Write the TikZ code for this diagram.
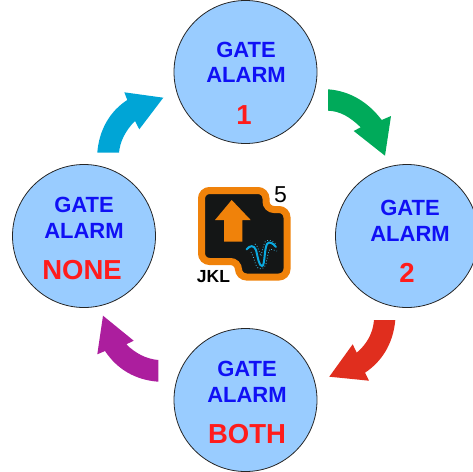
\documentclass[tikz,border=0pt]{standalone}
\usepackage{fontspec}
\setmainfont{Liberation Sans}

\tikzset{
    gatecircle/.style={circle, draw=black!85, line width=0.8pt, fill=gatefill, minimum size=143pt, inner sep=0pt},
    gatetext/.style={text=gateblue, font=\fontsize{22}{22}\selectfont\bfseries},
    statetext/.style={text=gatered, font=\fontsize{27.5}{27.5}\selectfont\bfseries},
}

\begin{document}
\begin{tikzpicture}[x=1pt,y=-1pt]

    % Define colors
    \definecolor{gatefill}{RGB}{153,204,255}
    \definecolor{gateblue}{RGB}{16,16,245}
    \definecolor{gatered}{RGB}{255,28,28}
    \definecolor{arrowgreen}{RGB}{0,170,90}
    \definecolor{arrowred}{RGB}{224,46,30}
    \definecolor{arrowpurple}{RGB}{172,30,158}
    \definecolor{arrowblue}{RGB}{0,165,214}
    \definecolor{logoorange}{RGB}{240,130,10}
    \definecolor{logodark}{RGB}{20,22,22}
    \definecolor{logocyan}{RGB}{10,170,225}

    \useasboundingbox (0,0) rectangle (473,471);

    % Circles
    \node[gatecircle] (top) at (245.5,72) {};
    \node[gatecircle] (right) at (407,236) {};
    \node[gatecircle] (bottom) at (245.5,400) {};
    \node[gatecircle] (left) at (84,236) {};

    \node[gatetext] (topgate) at (246,50) {GATE};
    \node[gatetext] (topalarm) at (246,75) {ALARM};
    \node[statetext] (topstate) at (244,115) {1};

    \node[gatetext] (rightgate) at (410,208) {GATE};
    \node[gatetext] (rightalarm) at (410,234) {ALARM};
    \node[statetext] (rightstate) at (407,273) {2};

    \node[gatetext] (bottomgate) at (247,369) {GATE};
    \node[gatetext] (bottomalarm) at (247,395) {ALARM};
    \node[statetext] (bottomstate) at (247,434) {BOTH};

    \node[gatetext] (leftgate) at (84,205) {GATE};
    \node[gatetext] (leftalarm) at (84,231) {ALARM};
    \node[statetext] (leftstate) at (82,270) {NONE};

    %-------------
    % Arrows
    \fill[arrowgreen] (328,89.3) .. controls (350,91) and (368,102) .. (381.7,120)
        -- (391,116) -- (385,155.7) -- (353.7,131) -- (360.7,127.3)
        .. controls (350,117) and (340,111) .. (328,110.7) -- cycle;
    \fill[arrowred] (374,320) -- (395.3,320)
        .. controls (393,345) and (381,362) .. (365,372.7)
        -- (369,380.7) -- (329.3,376.7) -- (352.7,344.3) -- (356.7,352.7)
        .. controls (367,344) and (373,333) .. (374,320) -- cycle;
    \fill[arrowpurple] (158.3,360) -- (158.3,381.7)
        .. controls (135,380) and (117,369) .. (105,351)
        -- (97.3,354.3) -- (103,315.7) -- (133.7,340.7) -- (126.3,344.3)
        .. controls (135,353) and (146,359) .. (158.3,360) -- cycle;
    \fill[arrowblue] (97.3,152.7) -- (119,152.7)
        .. controls (120,141) and (126,130) .. (135,121)
        -- (139.3,129.3) -- (163.3,97.7) -- (124.3,92.3) -- (127.3,100)
        .. controls (110,111) and (99,130) .. (97.3,152.7) -- cycle;

    %-------------
    % Logo
    \filldraw[logodark, draw=logoorange, line width=7pt, rounded corners=8pt]
        (201.5,190.5) -- (266,190.5) -- (266,209.5) -- (287,209.5) -- (287,277)
        -- (238.5,277) -- (238.5,261.5) -- (201.5,261.5) -- cycle;
    \fill[logoorange] (231.7,200) -- (250.7,220) -- (242.3,220) -- (242.3,241.7)
        -- (224,241.7) -- (224,220) -- (215,220) -- cycle;
    \draw[logocyan, line width=2pt, line cap=round] (246.5,249.5)
        .. controls (250,245) and (254,245) .. (256,250)
        .. controls (258,258) and (259,266) .. (262,266)
        .. controls (265,266) and (264,250) .. (267,244)
        .. controls (269,241) and (273,243) .. (276,247);
    \draw[logocyan!80!white, line width=0.8pt, dotted] (251,252)
        .. controls (254,256) and (255,266) .. (258,268)
        .. controls (260,269) and (264,270) .. (266,264)
        .. controls (267,259) and (268,252) .. (270,249) -- (277,251);
    \draw[logocyan!80!white, line width=0.8pt, dotted] (255,244)
        .. controls (258,246) and (259,252) .. (261,256)
        .. controls (262,252) and (263,246) .. (265,242)
        .. controls (267,239) and (272,240) .. (276,244);

    \node[font=\fontsize{23}{23}\selectfont, text=black] (logonumber) at (280.5,195) {5};
    \node[font=\fontsize{17.5}{17.5}\selectfont\bfseries, text=black] (logoname) at (213.5,277) {JKL};

\end{tikzpicture}
\end{document}
